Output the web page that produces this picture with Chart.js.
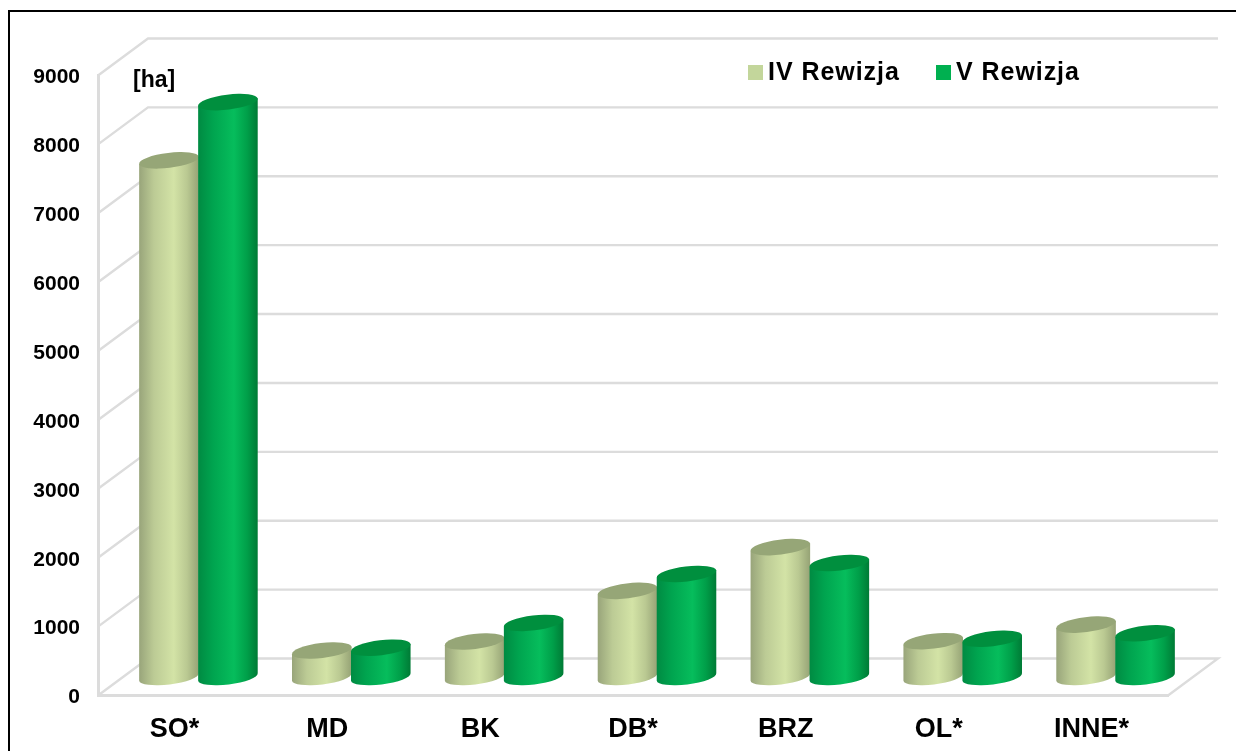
<!DOCTYPE html>
<html><head><meta charset="utf-8">
<style>html,body{margin:0;padding:0;background:#fff;overflow:hidden}canvas{display:block}</style>
<script src="https://cdn.jsdelivr.net/npm/chart.js@4/dist/chart.umd.js"></script>
</head><body><canvas id="c" width="1236" height="751"></canvas>
<script>
const categories = ['SO*','MD','BK','DB*','BRZ','OL*','INNE*'];
const rewizjaIV = [7500,385,515,1250,1885,520,760];
const rewizjaV = [8345,425,785,1495,1655,555,635];
const yTicks = [0,1000,2000,3000,4000,5000,6000,7000,8000,9000];
const unitLabel = '[ha]';

const FONT = '"Liberation Sans", Arial, sans-serif';
const styles = [
  {legend:'#c3d69b', top:'#96a677', stops:[[0,'#98a47a'],[.25,'#bccb95'],[.58,'#d3e3a6'],[.8,'#bac992'],[1,'#95a275']]},
  {legend:'#00b050', top:'#008f3e', stops:[[0,'#008a42'],[.25,'#00a44f'],[.6,'#06bd5c'],[.82,'#009f49'],[1,'#007a35']]}
];
const DX = 24, DY = 18.5, BACKX = 50, BACKY = 37, TILT = -7*Math.PI/180, RY = 7.5;

const cylinders = {
  id:'cylinders',
  beforeDraw(chart){
    // nudge tick labels onto the reference baseline
    const {y} = chart.scales;
    y.getLabelItems().forEach(it=>{ if(!it._nudged){ it.options.translation=[it.options.translation[0],it.options.translation[1]+2]; it._nudged=true; } });
  },
  beforeDatasetsDraw(chart){
    const {ctx, chartArea:a, scales:{y}} = chart;
    ctx.save();
    ctx.strokeStyle='#000'; ctx.lineWidth=2;
    ctx.beginPath(); ctx.moveTo(9,751); ctx.lineTo(9,11); ctx.lineTo(1236,11); ctx.stroke();
    ctx.strokeStyle='#dcdcdc'; ctx.lineWidth=2.4;
    yTicks.forEach(v=>{
      const p=y.getPixelForValue(v);
      ctx.beginPath(); ctx.moveTo(a.left,p); ctx.lineTo(a.left+BACKX,p-BACKY); ctx.lineTo(a.right+BACKX,p-BACKY);
      if(v===0) ctx.lineTo(a.right,p);
      ctx.stroke();
    });
    ctx.restore();
  },
  beforeDatasetDraw(){ return false; },
  afterDatasetsDraw(chart){
    const {ctx} = chart;
    chart.data.datasets.forEach((ds,i)=>{
      const st = styles[i];
      chart.getDatasetMeta(i).data.forEach(bar=>{
        const {x,y,base,width} = bar.getProps(['x','y','base','width'],true);
        const cx=x+DX, rx=width/2+0.5, top=y-DY, bot=base-DY;
        const g=ctx.createLinearGradient(cx-rx,0,cx+rx,0);
        st.stops.forEach(s=>g.addColorStop(s[0],s[1]));
        const ax=rx*Math.cos(TILT), ay=rx*Math.sin(TILT);
        ctx.save();
        ctx.fillStyle=g;
        ctx.beginPath();
        ctx.ellipse(cx,bot,rx,RY,TILT,0,Math.PI);
        ctx.lineTo(cx-ax,top-ay);
        ctx.lineTo(cx+ax,top+ay);
        ctx.closePath();
        ctx.fill();
        ctx.fillStyle=st.top;
        ctx.beginPath();
        ctx.ellipse(cx,top,rx,RY,TILT,0,Math.PI*2);
        ctx.fill();
        ctx.restore();
      });
    });
    ctx.save();
    ctx.textBaseline='middle'; ctx.textAlign='left'; ctx.fillStyle='#000';
    ctx.font='bold 23px '+FONT;
    ctx.fillText(unitLabel,133,81);
    ctx.font='bold 25px '+FONT;
    ctx.letterSpacing='0.95px';
    const lx=[748,936];
    chart.data.datasets.forEach((ds,i)=>{
      ctx.fillStyle=styles[i].legend;
      ctx.fillRect(lx[i],65,15,15);
      ctx.fillStyle='#000';
      ctx.fillText(ds.label,lx[i]+20,73);
    });
    ctx.restore();
  }
};

new Chart(document.getElementById('c'),{
  type:'bar',
  data:{labels:categories,datasets:[
    {label:'IV Rewizja',data:rewizjaIV,backgroundColor:styles[0].legend},
    {label:'V Rewizja',data:rewizjaV,backgroundColor:styles[1].legend}
  ]},
  plugins:[cylinders],
  options:{
    responsive:false,animation:false,
    layout:{padding:{top:75.5,right:68,left:0,bottom:0}},
    plugins:{legend:{display:false},tooltip:{enabled:false},title:{display:false}},
    datasets:{bar:{categoryPercentage:0.772,barPercentage:1}},
    scales:{
      x:{
        grid:{display:false},
        border:{display:true,color:'#dcdcdc',width:3},
        ticks:{color:'#000',font:{family:FONT,weight:'bold',size:27},padding:10,maxRotation:0,autoSkip:false},
        afterFit(s){s.height=55.5;}
      },
      y:{
        min:0,max:9000,
        grid:{display:false},
        border:{display:true,color:'#dcdcdc',width:3},
        ticks:{color:'#000',font:{family:FONT,weight:'bold',size:21},padding:10,stepSize:1000,
          callback:v=>String(v)},
        afterFit(s){s.width=98;}
      }
    }
  }
});
</script></body></html>
